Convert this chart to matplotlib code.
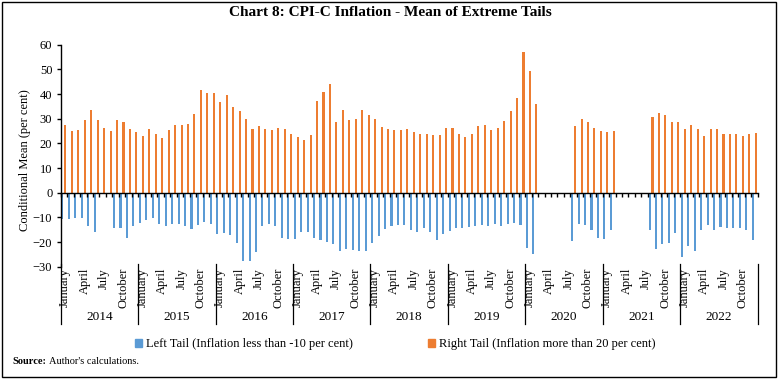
import numpy as np
import matplotlib.pyplot as plt
from matplotlib.patches import Patch, Rectangle
from matplotlib.transforms import blended_transform_factory

nan = np.nan

years = [2014, 2015, 2016, 2017, 2018, 2019, 2020, 2021, 2022]
month_names = ['January', 'April', 'July', 'October']
month_pos = [0, 3, 6, 9]

# Left tail: mean of inflation below -10 per cent (monthly, Jan 2014 - Dec 2022)
left_tail = [
    -10.6, -10.6, -10.2, -10.3, -13.5, -15.8, nan, nan, -14.4, -14.4, -18.3, -13.7,   # 2014
    -12.3, -11.2, -10.4, -12.5, -13.3, -12.7, -12.7, -13.7, -14.6, -12.9, -11.8, -12.5,  # 2015
    -16.7, -16.4, -17.3, -20.5, -27.5, -27.5, -24.1, -13.5, -12.7, -13.5, -18.4, -18.8,  # 2016
    -18.7, -16.0, -15.9, -18.4, -19.3, -20.0, -20.6, -23.6, -22.7, -23.2, -23.5, -23.7,  # 2017
    -20.4, -17.6, -14.9, -13.6, -13.2, -12.9, -15.2, -15.9, -14.5, -15.9, -19.0, -16.6,  # 2018
    -15.6, -14.5, -14.2, -14.1, -13.5, -13.2, -13.3, -12.5, -13.3, -12.5, -12.2, -13.0,  # 2019
    -22.3, -24.9, nan, nan, nan, nan, nan, -19.4, -12.7, -13.1, -15.0, -18.4,            # 2020
    -18.7, -15.0, nan, nan, nan, nan, nan, -15.3, -22.8, -20.9, -20.3, -16.4,            # 2021
    -26.2, -21.8, -23.7, -15.0, -12.9, -15.0, -14.1, -14.4, -14.4, -14.4, -15.3, -19.2,  # 2022
]

# Right tail: mean of inflation above 20 per cent
right_tail = [
    27.4, 25.2, 25.5, 29.5, 33.6, 29.3, 26.1, 25.2, 29.3, 28.6, 25.7, 24.8,  # 2014
    22.9, 25.7, 24.0, 22.1, 25.3, 27.4, 27.4, 27.8, 31.8, 41.7, 40.5, 40.5,  # 2015
    36.7, 39.8, 34.9, 33.3, 29.8, 26.0, 27.2, 26.0, 25.6, 26.4, 25.7, 24.0,  # 2016
    22.5, 21.4, 23.2, 37.1, 40.9, 44.0, 28.6, 33.7, 29.4, 29.9, 33.5, 31.7,  # 2017
    29.7, 26.8, 26.0, 25.3, 25.6, 26.0, 24.5, 24.0, 23.6, 23.3, 23.3, 26.4,  # 2018
    26.1, 23.6, 22.6, 24.0, 27.2, 27.5, 25.6, 26.1, 28.9, 33.0, 38.3, 56.9,  # 2019
    49.2, 35.9, nan, nan, nan, nan, nan, 27.0, 29.8, 28.6, 26.4, 25.2,       # 2020
    24.5, 25.2, nan, nan, nan, nan, nan, 30.7, 32.2, 31.4, 28.7, 28.6,       # 2021
    25.9, 27.5, 25.9, 23.0, 25.7, 25.7, 23.6, 24.0, 23.6, 22.8, 23.8, 24.2,  # 2022
]

left_label = 'Left Tail (Inflation less than -10 per cent)'
right_label = 'Right Tail (Inflation more than 20 per cent)'
blue = '#5B9BD5'
orange = '#ED7D31'

plt.rcParams['font.family'] = ['Liberation Serif', 'DejaVu Serif']

W, H = 779, 381
fig = plt.figure(figsize=(W / 100, H / 100), dpi=100)

# plot area in pixels: left 60.7, right 757.5, top 44.7, bottom 266.7
ax = fig.add_axes([60.7 / W, 1 - 266.7 / H, (757.5 - 60.7) / W, (266.7 - 44.7) / H])

n = len(right_tail)
x = np.arange(n)
ax.bar(x - 0.23, left_tail, width=0.32, color=blue)
ax.bar(x + 0.23, right_tail, width=0.32, color=orange)

ax.spines[['top', 'right']].set_visible(False)
ax.spines['bottom'].set_position(('data', 0))
ax.spines['left'].set_linewidth(1)
ax.spines['bottom'].set_linewidth(1)
ax.set_xticks(np.arange(-0.5, n, 1))
ax.tick_params(axis='x', length=3, width=1, labelbottom=False, direction='out')
ax.set_yticks(range(-30, 61, 10))
ax.tick_params(axis='y', length=3, width=1, labelsize=9, pad=3)

# category labels below the plot
trans = blended_transform_factory(ax.transData, fig.transFigure)
for k, yr in enumerate(years):
    for name, m in zip(month_names, month_pos):
        ax.text(12 * k + m + 0.2, 1 - 268 / H, name, transform=trans, rotation=90,
                ha='center', va='top', fontsize=9, clip_on=False)
    ax.text(12 * k + 5.5, 1 - 317 / H, str(yr), transform=trans,
            ha='center', va='center', fontsize=9.5, clip_on=False)
for k in range(len(years) + 1):
    ax.plot([12 * k - 0.5] * 2, [1 - 264 / H, 1 - 324 / H], transform=trans,
            color='black', lw=0.9, clip_on=False)

ax.set_xlim(-0.5, n - 0.5)
ax.set_ylim(-30, 60)

fig.text(25 / W, 1 - 160 / H, 'Conditional Mean (per cent)', rotation=90,
         ha='center', va='center', fontsize=9)

fig.text(390 / W, 1 - 13 / H, 'Chart 8: CPI-C Inflation - Mean of Extreme Tails',
         ha='center', va='center', fontsize=11, fontweight='bold')

handles = [Patch(color=blue), Patch(color=orange)]
fig.legend(handles, [left_label, right_label], loc='center',
           bbox_to_anchor=(395 / W, 1 - 344 / H), ncol=2, frameon=False,
           fontsize=9, handlelength=0.6, handleheight=0.6, handletextpad=0.3,
           columnspacing=6)

fig.text(12 / W, 1 - 361 / H, 'Source:', fontsize=7.5, fontweight='bold', va='center')
fig.text(49 / W, 1 - 361 / H, "Author's calculations.", fontsize=7.5, va='center')

fig.patches.append(Rectangle((1.7 / W, 4.3 / H), 774.5 / W, 375 / H,
                             transform=fig.transFigure, fill=False, lw=1, ec='black'))

fig.savefig('out.png', dpi=100)
